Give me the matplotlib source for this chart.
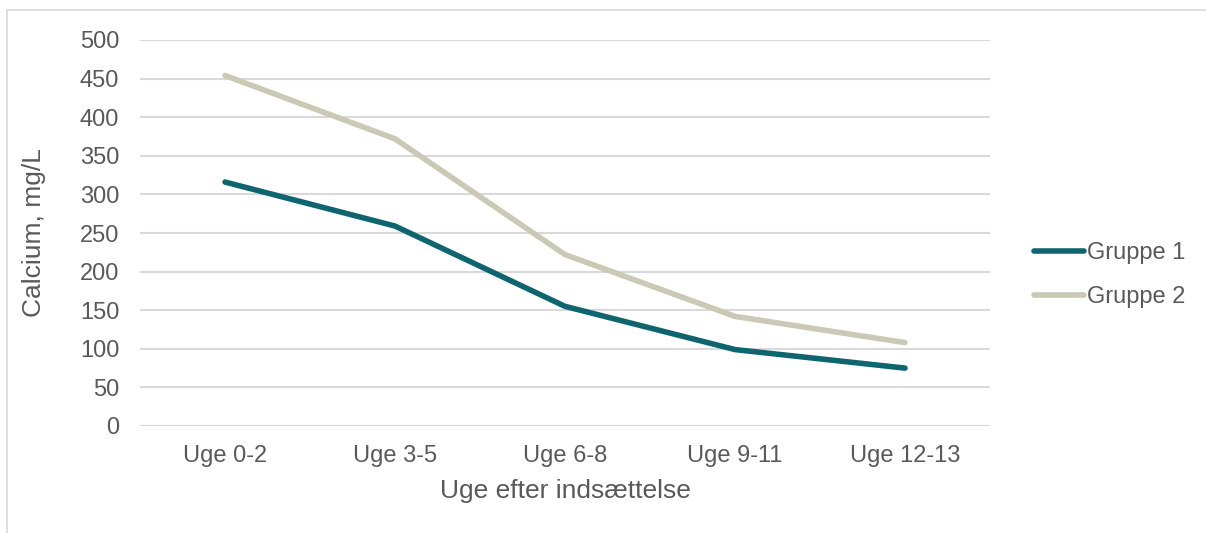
import matplotlib
matplotlib.use("Agg")
import matplotlib.pyplot as plt
from matplotlib.patches import Rectangle

categories = ["Uge 0-2", "Uge 3-5", "Uge 6-8", "Uge 9-11", "Uge 12-13"]
gruppe_1 = [316, 259, 155, 99, 75]
gruppe_2 = [454, 372, 222, 142, 108]
y_ticks = [0, 50, 100, 150, 200, 250, 300, 350, 400, 450, 500]

text_color = "#595959"
grid_color = "#D9D9D9"

plt.rcParams["font.family"] = ["Liberation Sans", "DejaVu Sans"]

fig = plt.figure(figsize=(12.06, 5.33), dpi=100)
W, H = 1206, 533
ax = fig.add_axes([140 / W, (H - 426) / H, 850 / W, 386 / H])

# light frame around the chart area (cut off at right and bottom)
fig.patches.append(Rectangle((7 / W, -0.1), 1.2, (H - 10) / H + 0.1,
                             transform=fig.transFigure, fill=False,
                             edgecolor=grid_color, linewidth=1.2))

x = range(len(categories))
ax.plot(x, gruppe_1, color="#0E6570", linewidth=4, solid_capstyle="round", label="Gruppe 1", zorder=3)
ax.plot(x, gruppe_2, color="#C9C9B5", linewidth=4, solid_capstyle="round", label="Gruppe 2", zorder=3)

ax.set_xlim(-0.5, len(categories) - 0.5)
ax.set_ylim(0, 500)
ax.set_yticks(y_ticks)
ax.set_xticks(list(x))
ax.set_xticklabels(categories)
ax.yaxis.grid(True, color=grid_color, linewidth=1.5)
ax.set_axisbelow(True)
for s in ax.spines.values():
    s.set_visible(False)
ax.tick_params(axis="both", length=0, labelsize=17, colors=text_color)
ax.tick_params(axis="y", pad=15)
ax.tick_params(axis="x", pad=14)

ax.set_xlabel("Uge efter indsættelse", fontsize=19, color=text_color, labelpad=8)
ax.set_ylabel("Calcium, mg/L", fontsize=19, color=text_color, labelpad=24)

fig.legend(loc="center left", bbox_to_anchor=(1013 / W, (H - 275) / H),
           frameon=False, fontsize=17, handlelength=2.1, handletextpad=0.15,
           labelspacing=0.95, labelcolor=text_color)

fig.savefig("out.png", dpi=100)
